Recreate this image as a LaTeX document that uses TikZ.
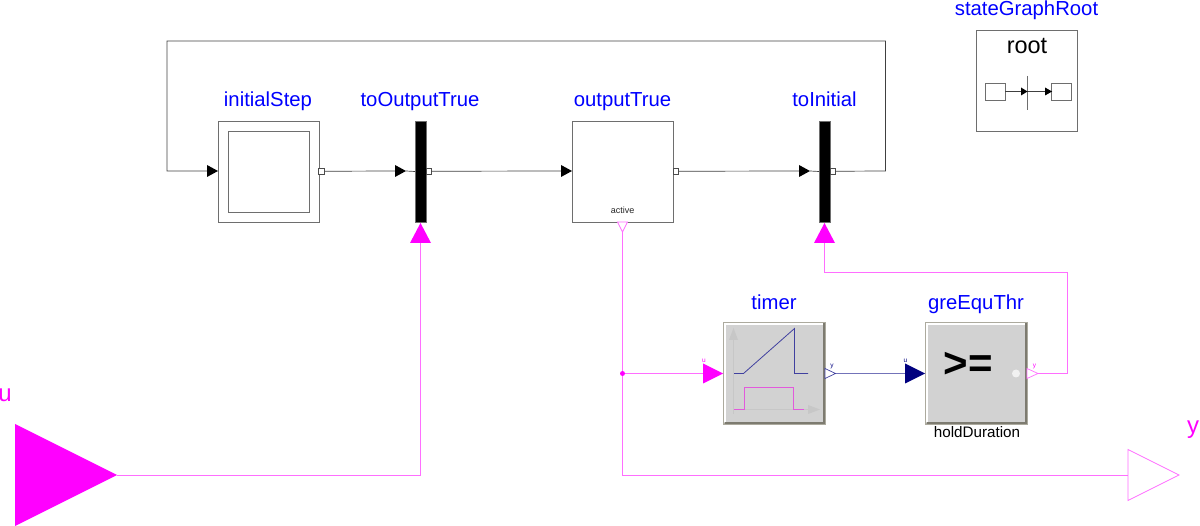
\documentclass[tikz,border=0pt]{standalone}
\usepackage{fontspec}
\setmainfont{Liberation Sans}
\definecolor{mag}{RGB}{255,0,255}
\definecolor{wiremag}{RGB}{255,110,255}
\definecolor{lbl}{RGB}{0,0,255}
\definecolor{navyc}{RGB}{0,0,127}
\definecolor{edge}{RGB}{110,110,110}
\definecolor{blockg}{RGB}{210,210,210}
\definecolor{bevlight}{RGB}{172,170,158}
\definecolor{bevdark}{RGB}{125,123,112}
\definecolor{pulsec}{RGB}{226,90,220}
\newcommand{\boxat}[6][]{\node[#1,minimum width=#5 pt-#3 pt,minimum height=#6 pt-#4 pt] (#2) at ({(#3+#5)/2},{(#4+#6)/2}) {};}
\newcommand{\trinode}[6]{% name, x0, y centre, w, half h, draw opts
  \node[ghost,minimum width=#4 pt,minimum height=2*#5 pt] (#1) at ({#2+#4/2},#3) {};
  \path[#6] (#1.north west) -- (#1.east) -- (#1.south west) -- cycle;}
\newcommand{\tridown}[6]{% name, x centre, y0, half w, h, opts
  \node[ghost,minimum width=2*#4 pt,minimum height=#5 pt] (#1) at (#2,{#3+#5/2}) {};
  \path[#6] (#1.north west) -- (#1.north east) -- (#1.south) -- cycle;}
\newcommand{\triup}[6]{% name, x centre, y0 (top), half w, h, opts
  \node[ghost,minimum width=2*#4 pt,minimum height=#5 pt] (#1) at (#2,{#3+#5/2}) {};
  \path[#6] (#1.north) -- (#1.south east) -- (#1.south west) -- cycle;}
\tikzset{
  ghost/.style={inner sep=0pt,outer sep=0pt,draw=none},
  stepbox/.style={inner sep=0pt,outer sep=0pt,draw=edge,line width=0.7pt,fill=white},
  barbox/.style={inner sep=0pt,outer sep=0pt,fill=black,draw=edge,line width=0.4pt},
  portbox/.style={inner sep=0pt,outer sep=0pt,draw=black!70,line width=0.6pt,fill=white},
  title/.style={inner sep=0pt,text=lbl,font=\fontsize{20.3}{23}\selectfont,anchor=base},
  blockbox/.style={inner sep=0pt,outer sep=0pt,fill=blockg,draw=none},
  wire/.style={line width=0.7pt,draw=black!75},
  mwire/.style={line width=0.8pt,draw=wiremag},
  nwire/.style={line width=0.8pt,draw=navyc!55},
  tiny/.style={inner sep=0pt,font=\fontsize{6.5}{7}\selectfont},
}
\begin{document}
\begin{tikzpicture}[x=1pt,y=-1pt]
\useasboundingbox (0,0) rectangle (1200,526);
% step boxes
\boxat[stepbox]{initialStep}{218}{121}{319}{222}
\boxat[stepbox]{initialInner}{228}{131}{309}{212}
\boxat[stepbox]{outputTrue}{572}{121}{673}{222}
\boxat[barbox]{toOutputTrue}{415}{121}{426}{222}
\boxat[barbox]{toInitial}{819}{121}{830}{222}
% ports
\boxat[portbox]{pIS}{318.5}{168.5}{324.5}{174}
\boxat[portbox]{pTO}{426}{168.5}{431}{174}
\boxat[portbox]{pOT}{673}{168.5}{678.5}{174}
\boxat[portbox]{pTI}{830}{168.5}{835}{174}
% black input arrow heads
\trinode{aIS}{207}{171}{11}{6}{fill=black}
\trinode{aTO}{395}{171}{11}{6}{fill=black}
\trinode{aOT}{561}{171}{11}{6}{fill=black}
\trinode{aTI}{799}{171}{11}{6}{fill=black}
% coordinates of the loop
\coordinate (loopA) at (885.5,171);
\coordinate (loopB) at (885.5,41);
\coordinate (loopC) at (167,41);
\coordinate (loopD) at (167,171);
\draw[wire] (pTI.east) -- (loopA) -- (loopB) -- (loopC) -- (loopD) -- (aIS.west);
\draw[wire] (pIS.east) -- (aTO.west);
\draw[wire] (aTO.east) -- (toOutputTrue.west);
\draw[wire] (pTO.east) -- (aOT.west);
\draw[wire] (pOT.east) -- (aTI.west);
\draw[wire] (aTI.east) -- (toInitial.west);
% magenta triangles on transitions
\triup{cTO}{420.5}{223}{10.5}{20}{fill=mag}
\triup{cTI}{824.5}{223}{10.5}{20}{fill=mag}
% active port
\tridown{act}{622.5}{222}{5}{10}{draw=wiremag,line width=0.7pt,fill=white}
\node[inner sep=0pt,font=\fontsize{9}{10}\selectfont,text=black!85,anchor=base] (activeT) at (622.5,213.5) {active};
% blocks
\boxat[blockbox]{timer}{723}{322}{825}{424}
\boxat[blockbox]{gre}{925}{322}{1027}{424}
\draw[line width=1.4pt,draw=bevlight] (723.5,424) rectangle (825,322.5);
\draw[line width=1.4pt,draw=bevlight] (925.5,424) rectangle (1027,322.5);
\draw[line width=1.3pt,draw=white] (725,422) -- (725,324) -- (823,324);
\draw[line width=1.3pt,draw=white] (927,422) -- (927,324) -- (1025,324);
\draw[line width=1.6pt,draw=bevdark] (724.5,423.2) -- (824.2,423.2) -- (824.2,323.5);
\draw[line width=1.6pt,draw=bevdark] (926.5,423.2) -- (1026.2,423.2) -- (1026.2,323.5);
% timer icon
\draw[line width=0.8pt,draw=black!22] (733.5,339) -- (733.5,414);
\fill[black!22] (733.5,328) -- (738,340) -- (729,340) -- cycle;
\draw[line width=0.8pt,draw=black!22] (734,409.5) -- (810,409.5);
\fill[black!22] (820,409.5) -- (808,405) -- (808,414) -- cycle;
\draw[line width=0.8pt,draw=navyc!75] (734,373.5) -- (743.5,373.5) -- (794.5,328.5) -- (794.5,373.5) -- (808,373.5);
\draw[line width=0.8pt,draw=pulsec] (734,409.5) -- (744,409.5) -- (744,387) -- (793.5,387) -- (793.5,409.5) -- (804,409.5);
% block text
\node[inner sep=0pt,font=\bfseries\fontsize{42}{46}\selectfont,anchor=base] (geT) at (968.5,377.5) {>=};
\fill[white!70!blockg] (1016,373.5) circle (4);
\node[inner sep=0pt,font=\fontsize{15.2}{17}\selectfont,anchor=base] (hold) at (977,437.5) {holdDuration};
% timer / greEqu ports
\trinode{tIn}{703}{373.5}{20}{10}{fill=mag}
\trinode{tOut}{825}{373.5}{10.5}{5}{draw=navyc!75,line width=0.7pt,fill=white}
\trinode{gIn}{905}{373.5}{20}{10}{fill=navyc}
\trinode{gOut}{1027}{373.5}{11}{5}{draw=wiremag,line width=0.7pt,fill=white}
\node[tiny,text=mag] (tInL) at (704,360.5) {u};
\node[tiny,text=navyc] (tOutL) at (832,366) {y};
\node[tiny,text=navyc] (gInL) at (905.5,360.5) {u};
\node[tiny,text=mag] (gOutL) at (1034.5,366) {y};
% big in/out
\trinode{uIn}{15}{475}{102}{51}{fill=mag}
\trinode{yOut}{1128}{475}{51}{25.5}{draw=wiremag,line width=0.8pt,fill=white}
% magenta wires
\coordinate (uCorner) at (420.5,475);
\draw[mwire] (uIn.east) -- (uCorner) -- (cTO.south);
\coordinate (branch) at (622.5,373.5);
\coordinate (yCorner) at (622.5,475);
\draw[mwire] (act.south) -- (yCorner) -- (yOut.west);
\draw[mwire] (branch) -- (tIn.west);
\fill[mag] (branch) circle (2.5);
\draw[nwire] (tOut.east) -- (gIn.west);
\coordinate (gA) at (1067.5,373.5);
\coordinate (gB) at (1067.5,272.5);
\coordinate (gC) at (824.5,272.5);
\draw[mwire] (gOut.east) -- (gA) -- (gB) -- (gC) -- (cTI.south);
% root
\node[stepbox,minimum width=100.5pt,minimum height=101pt] (root) at (1027,80.5) {};
\node[inner sep=0pt,font=\fontsize{23.5}{27}\selectfont,anchor=base] (rootT) at (1027,54) {root};
\boxat[stepbox]{rA}{985.5}{83}{1005}{100.5}
\boxat[stepbox]{rB}{1051.5}{83}{1071}{100.5}
\coordinate (rTop) at (1027,76);
\coordinate (rBot) at (1027,110);
\draw[draw=edge,line width=0.7pt] (rTop) -- (rBot);
\draw[wire,line width=0.6pt] (rA.east) -- (rB.west);
\fill (1027.5,91.5) -- (1021,87.5) -- (1021,95.5) -- cycle;
\fill (1052,91.5) -- (1045,87.5) -- (1045,95.5) -- cycle;
% titles
\node[title] (t1) at (268,106.5) {initialStep};
\node[title] (t2) at (420,106.5) {toOutputTrue};
\node[title] (t3) at (622.5,106.5) {outputTrue};
\node[title] (t4) at (824.5,106.5) {toInitial};
\node[title] (t5) at (774,309.5) {timer};
\node[title] (t6) at (976,309.5) {greEquThr};
\node[title] (t7) at (1026.5,15.5) {stateGraphRoot};
\node[title,text=mag,font=\fontsize{24}{28}\selectfont] (tu) at (5,402) {u};
\node[title,text=mag,font=\fontsize{24}{28}\selectfont] (ty) at (1193,433.5) {y};
\end{tikzpicture}
\end{document}
